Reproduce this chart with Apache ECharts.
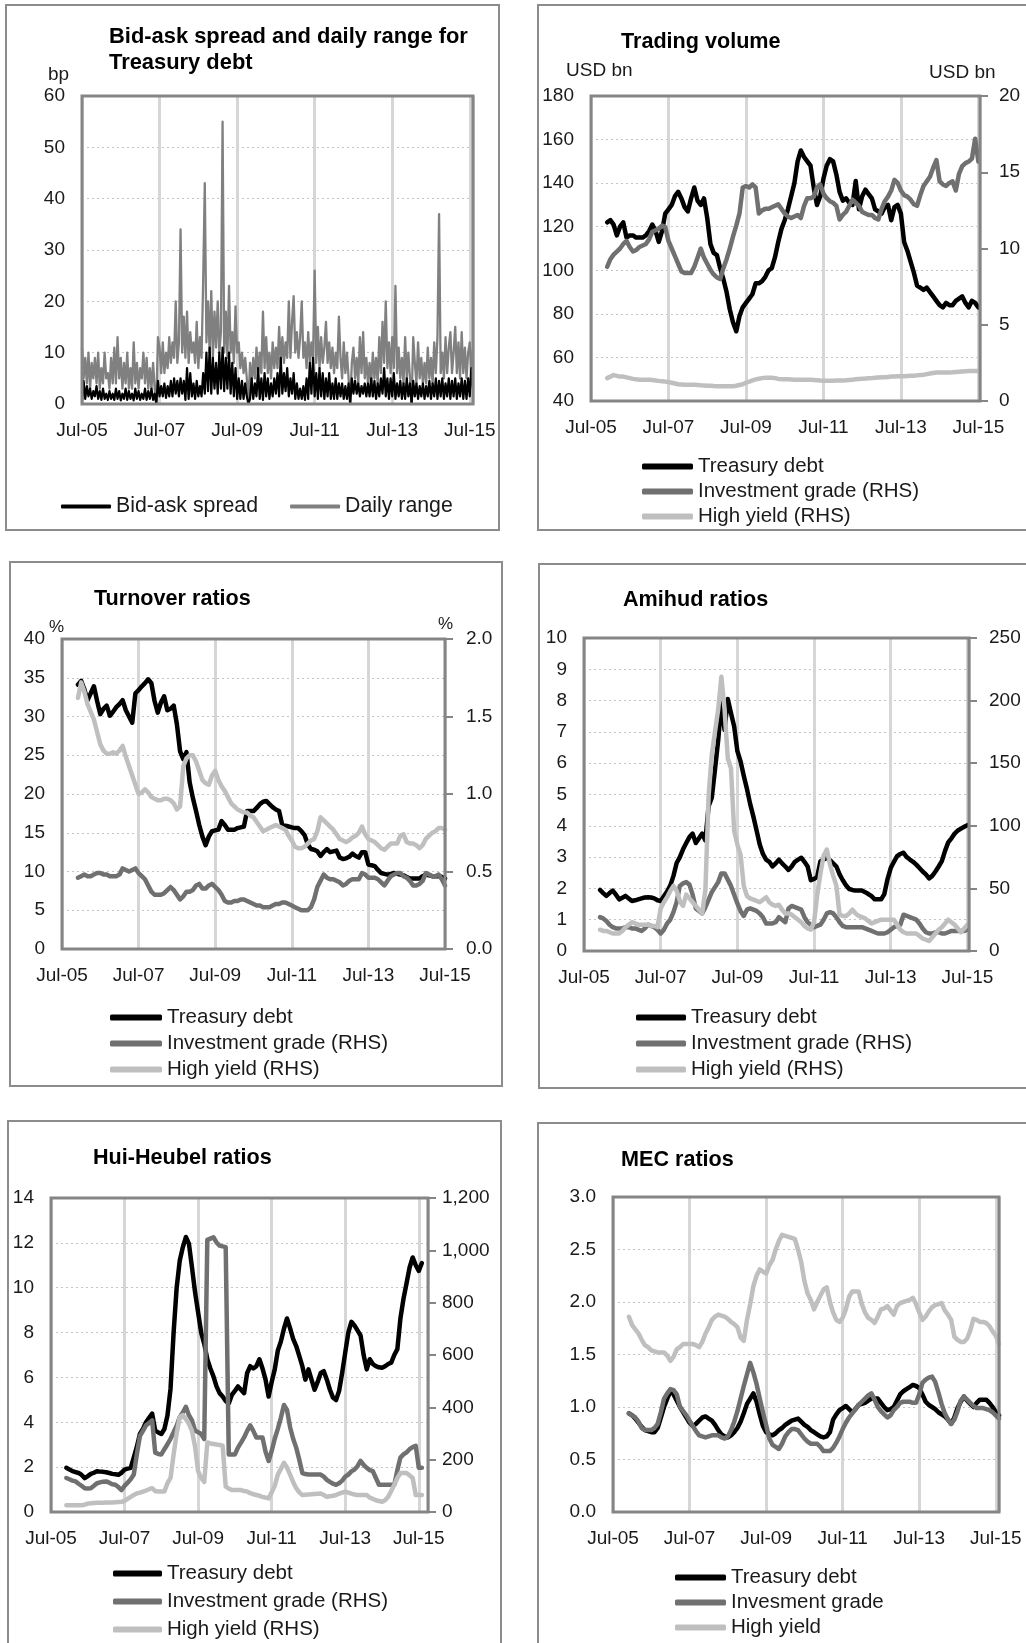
<!DOCTYPE html>
<html><head><meta charset="utf-8">
<script src="https://cdn.jsdelivr.net/npm/echarts/dist/echarts.min.js"></script>
<style>html,body{margin:0;padding:0;background:#fff}#c{width:1026px;height:1643px}</style>
</head><body><div id="c"></div>
<script>
// ---------- tick labels ----------
const xLabels = ['Jul-05','Jul-07','Jul-09','Jul-11','Jul-13','Jul-15'];

// ---------- Panel 1: bid-ask spread & daily range (half-monthly from Jul-05) ----------
const baStart = 0, baStep = 0.5;
const dailyRange = [
 11,5,9,4,10,3,8,5,9,4,   10,3,7,4,10,5,6,3,9,4,
 11,4,13,5,9,3,8,4,10,3,  7,3,12,4,8,3,7,5,10,4,
 9,3,7,3,8,3,0,13,11,6,   12,6,10,7,13,8,12,9,20,8,
 12,34,10,17,9,18,8,14,10,12, 8,16,7,13,9,24,43,12,20,10,
 22,9,18,11,20,10,14,55,10,18, 9,23,10,14,8,19,10,12,7,10,
 6,9,5,0,8,4,9,5,11,6,    10,6,18,7,13,6,10,5,12,7,
 11,7,15,8,13,8,12,9,20,9, 16,21,10,14,9,13,20,9,12,7,
 14,8,12,9,26,8,15,7,13,8, 11,16,8,12,7,11,6,10,7,17,
 9,5,12,6,10,5,0,8,11,5,  9,4,13,6,14,5,9,4,8,4,
 10,5,9,4,13,6,16,8,20,7, 12,6,13,7,23,6,11,5,9,4,
 13,5,10,5,0,13,8,4,12,5, 9,4,8,4,11,5,9,4,12,6,
 13,37,6,10,5,13,6,11,14,6, 10,15,6,12,5,14,6,11,5,10,
 12,6,11];
const bidAsk = [
 0.5,4.5,1,3.5,1.5,3,1,2.5,1.5,3.5, 1,2.5,0.8,3,1,2,0.8,2.5,1,2,
 0.8,3,1,2.5,0.7,2,1,3,0.8,2.5,     1,2,0.7,3,1,2.5,0.8,2,1,3,
 0.8,2.5,1,3,0.8,2,0,4.5,1.5,3.5,   1.5,4,1.2,3.5,1.5,4.5,1.5,5,2,4.5,
 1.5,5,2,4.5,0.8,7,1,6,1.5,4,       1,4.5,1.5,3.5,1.5,6,2,10,2.5,11,
 2,9,3,8,2,10,3,11,2.5,9,           3,10,2,8,1.5,7,1,5,1,4.5,
 1,4,1.5,0,1,5,1,4,1.5,7,           1,5,0.8,6,1.5,5,1,4,1.5,5,
 2,6,1.5,9,2,6,2.5,7,1.5,5,         2,6,1,4,1,3,1,3.5,0.8,5,
 1,8,2,9,1.5,6,1,7,1.5,6,           1,5,1.5,6,1,4,1,5,1,4,
 1.5,4,1,3.5,1,4,0,5,2,4.5,         2,4,1.5,3.5,2,4,1.5,4,1.5,5,
 1.5,4.5,1,4,1.5,5,2,7,1.5,5,       1,5,1.5,6,1,4,1.5,4.5,1,4,
 1,5,1.5,4,0,4.5,1.5,4,1,3.5,       1.5,4,1,3.5,1.5,4.5,1,4,1.5,5,
 1,4.5,1.5,5,1,4,1.5,5,1,4.5,       1.5,5,1,4,1.5,5,1,4.5,1,5,
 1.5,7,3];

// ---------- Panel 2: trading volume (monthly, from month 5 after Jul-05) ----------
const tvStart = 5;
const tvTreasury = [
 122,123,121,116,120,122,115,116,116,115,
 115,115,116,118,121,118,113,118,126,128,
 130,134,136,133,129,127,133,138,132,130,
 133,124,112,108,107,101,96,90,82,76,
 72,79,83,85,87,89,94,94,95,97,
 100,101,106,113,119,123,128,134,140,150,
 155,152,150,148,138,130,134,142,148,151,
 150,144,136,132,133,131,130,141,128,134,
 137,135,133,128,127,126,129,130,123,129,
 130,126,113,109,104,99,93,92,91,92,
 90,88,86,84,83,85,84,84,86,87,
 88,85,83,86,85,83];
const tvInvGrade = [
 8.8,9.3,9.6,9.8,10.0,10.3,10.5,10.1,9.8,9.9,
 10.1,10.2,10.3,10.6,11.1,11.2,11.3,11.5,11.4,10.5,
 10.0,9.5,9.0,8.5,8.4,8.4,8.4,8.8,9.4,10.0,
 9.4,9.0,8.6,8.3,8.1,8.0,8.7,9.3,10.0,10.8,
 11.5,12.3,14.0,14.1,14.0,14.2,14.0,12.3,12.5,12.6,
 12.6,12.7,12.8,12.9,12.6,12.3,12.1,12.0,12.1,12.2,
 12.0,12.8,13.3,13.3,13.4,14.0,14.2,13.6,13.3,13.1,
 13.0,12.8,11.9,12.2,12.4,12.8,13.2,13.0,12.8,12.4,
 12.3,12.2,12.2,12.0,11.9,12.6,13.1,13.4,13.8,14.5,
 14.3,13.8,13.5,13.4,13.2,12.9,12.8,13.5,14.1,14.4,
 14.7,15.3,15.8,14.4,14.2,14.1,14.3,14.4,13.8,14.9,
 15.4,15.6,15.7,15.9,17.2,15.7];
const tvHighYield = [
 1.5,1.6,1.7,1.65,1.6,1.6,1.55,1.5,1.45,1.42,
 1.4,1.4,1.4,1.4,1.38,1.35,1.32,1.3,1.27,1.24,
 1.2,1.15,1.1,1.08,1.06,1.06,1.06,1.06,1.05,1.03,
 1.02,1.0,1.0,0.98,0.97,0.97,0.96,0.96,0.97,0.97,
 1.0,1.05,1.1,1.2,1.27,1.35,1.42,1.46,1.5,1.52,
 1.53,1.53,1.5,1.45,1.42,1.42,1.42,1.41,1.4,1.4,
 1.4,1.4,1.4,1.4,1.38,1.36,1.34,1.33,1.33,1.33,
 1.33,1.34,1.35,1.35,1.36,1.38,1.4,1.42,1.44,1.46,
 1.47,1.49,1.5,1.52,1.54,1.55,1.56,1.58,1.6,1.61,
 1.62,1.62,1.63,1.64,1.65,1.66,1.68,1.7,1.72,1.76,
 1.8,1.84,1.87,1.87,1.87,1.87,1.87,1.88,1.9,1.92,
 1.94,1.95,1.96,1.96,1.96,1.96];

// ---------- Panel 3: turnover ratios ----------
const toStart = 5;
const toTreasury = [
 34.1,34.6,33.5,32.1,33.0,33.9,32.0,30.3,31.0,31.4,
 30.1,30.6,31.2,31.6,32.1,30.8,30.0,29.2,33.0,33.4,
 33.9,34.3,34.8,34.3,32.0,30.5,31.8,32.6,30.8,31.0,
 31.4,29.0,25.5,24.5,25.4,21.5,19.5,17.8,16.0,14.5,
 13.4,14.5,15.2,15.3,15.4,16.5,16.0,15.4,15.4,15.4,
 15.6,15.7,15.8,17.8,17.8,17.8,18.2,18.7,19.0,19.1,
 18.7,18.3,18.0,17.8,16.0,15.9,15.8,15.7,15.6,15.6,
 15.2,14.7,13.5,12.9,12.8,12.6,12.0,12.5,12.9,12.5,
 12.6,12.7,11.8,11.6,11.7,11.9,12.3,12.0,11.8,12.5,
 12.5,10.9,10.8,10.7,10.2,9.8,9.7,9.6,9.7,9.8,
 9.7,9.6,9.5,9.3,9.1,9.1,9.1,9.1,9.4,9.6,
 9.5,9.4,9.4,9.4,9.3,9.1];
const toInvGrade = [
 .46,.47,.48,.47,.47,.48,.49,.49,.48,.48,
 .47,.47,.47,.48,.52,.51,.50,.51,.52,.49,
 .47,.45,.41,.37,.35,.35,.35,.36,.38,.40,
 .38,.35,.32,.34,.37,.37,.38,.41,.42,.39,
 .39,.41,.42,.40,.38,.35,.31,.30,.30,.31,
 .31,.32,.32,.31,.30,.29,.28,.28,.27,.27,
 .27,.28,.29,.29,.30,.30,.29,.28,.27,.26,
 .25,.25,.25,.27,.32,.40,.44,.48,.46,.45,
 .45,.44,.43,.41,.42,.44,.45,.45,.45,.49,
 .48,.46,.46,.46,.45,.43,.41,.44,.47,.48,
 .49,.49,.47,.46,.44,.41,.41,.42,.44,.49,
 .48,.47,.47,.48,.45,.41];
const toHighYield = [
 1.62,1.72,1.66,1.58,1.53,1.48,1.40,1.32,1.28,1.26,
 1.26,1.27,1.26,1.28,1.31,1.24,1.18,1.12,1.06,1.00,
 1.01,1.03,1.01,.98,.97,.96,.96,.97,.97,.96,
 .94,.90,.92,1.18,1.23,1.25,1.25,1.21,1.15,1.09,
 1.07,1.06,1.12,1.15,1.09,1.05,1.02,.98,.94,.92,
 .90,.89,.88,.88,.86,.85,.82,.79,.76,.77,
 .78,.79,.80,.79,.78,.77,.73,.70,.66,.65,
 .65,.66,.68,.70,.71,.76,.85,.83,.81,.79,
 .77,.74,.71,.70,.69,.70,.72,.73,.75,.79,
 .74,.71,.70,.69,.67,.65,.64,.66,.68,.68,
 .68,.73,.74,.69,.68,.68,.67,.65,.67,.71,
 .73,.75,.76,.78,.78,.77];

// ---------- Panel 4: Amihud ratios ----------
const amStart = 5;
const amTreasury = [
 1.95,1.85,1.76,1.85,1.93,1.80,1.65,1.70,1.76,1.68,
 1.60,1.62,1.65,1.68,1.71,1.72,1.71,1.68,1.62,1.60,
 1.75,1.90,2.09,2.40,2.81,3.00,3.25,3.45,3.64,3.75,
 3.45,3.60,3.75,3.53,4.63,4.90,5.80,6.73,7.94,7.06,
 8.05,7.60,7.17,6.39,6.06,5.60,5.18,4.70,4.30,3.86,
 3.40,3.10,2.92,2.85,2.70,2.80,2.92,2.80,2.70,2.59,
 2.70,2.85,2.92,2.98,2.85,2.70,2.26,2.30,2.37,2.87,
 2.92,2.98,2.90,2.80,2.70,2.45,2.26,2.10,1.98,1.95,
 1.93,1.93,1.93,1.88,1.82,1.75,1.65,1.65,1.65,1.82,
 2.30,2.65,2.85,3.03,3.10,3.14,3.00,2.92,2.85,2.76,
 2.65,2.54,2.45,2.32,2.40,2.54,2.70,2.87,3.20,3.47,
 3.60,3.75,3.85,3.91,3.97,4.02];
const amInvGrade = [
 27,26,24,21,19,18,18,18,19,19,
 18,18,17,16,18,21,20,19,17,14,
 17,22,25,31,39,52,54,55,53,45,
 34,32,30,35,41,47,51,55,62,62,
 57,52,45,38,32,28,33,34,33,32,
 30,27,22,22,22,23,27,25,23,34,
 36,35,34,33,27,23,21,19,20,21,
 25,30,31,30,27,23,20,19,19,19,
 19,19,19,18,17,16,15,14,14,14,
 15,17,19,20,21,29,28,27,26,25,
 22,18,15,14,14,15,15,14,14,15,
 16,16,16,16,16,17];
const amHighYield = [
 17,16,16,15,14,14,14,16,19,21,
 23,22,21,21,21,21,20,20,19,34,
 39,43,48,52,48,40,36,45,42,39,
 36,33,30,49,124,157,175,193,219,193,
 154,146,96,85,77,52,44,42,41,40,
 39,41,43,39,37,36,37,33,30,30,
 29,27,25,23,20,18,17,23,45,62,
 76,81,69,60,52,29,28,28,30,33,
 30,28,27,26,24,22,23,24,25,25,
 25,25,25,21,17,15,14,14,14,14,
 12,10,9,8,11,14,17,19,22,25,
 23,21,18,15,18,21];

// ---------- Panel 5: Hui-Heubel ratios ----------
const hhStart = 5;
const hhTreasury = [
 1.97,1.90,1.82,1.78,1.74,1.65,1.51,1.60,1.70,1.75,
 1.82,1.80,1.79,1.77,1.74,1.70,1.68,1.66,1.75,1.89,
 1.93,1.97,2.42,2.90,3.48,3.70,4.00,4.20,4.39,3.63,
 3.55,3.48,3.70,4.30,5.50,8.00,10.0,11.2,11.8,12.26,
 11.96,10.9,9.8,8.9,8.0,7.5,6.81,6.40,6.05,5.60,
 5.30,5.15,4.95,4.84,5.22,5.40,5.60,5.45,5.30,6.20,
 6.50,6.40,6.50,6.81,6.40,5.90,5.15,5.80,6.36,7.20,
 7.60,8.17,8.63,8.20,7.72,7.40,6.96,6.50,5.90,6.36,
 5.90,5.45,5.80,6.20,6.28,5.90,5.45,5.10,4.99,5.40,
 6.20,7.11,8.00,8.48,8.32,8.10,7.87,7.00,6.36,6.81,
 6.60,6.50,6.45,6.43,6.50,6.60,6.66,7.00,7.26,8.63,
 9.50,10.2,10.9,11.35,11.0,10.75,11.1];
const hhInvGrade = [
 130,125,120,117,108,100,91,90,91,100,
 110,113,116,117,112,106,104,95,84,100,
 112,125,143,220,290,310,331,340,350,227,
 222,220,240,259,280,305,330,363,380,402,
 370,350,311,305,298,279,1040,1045,1050,1030,
 1018,1015,1012,220,220,220,246,265,285,310,
 331,310,285,285,285,230,195,233,280,318,
 360,409,390,324,280,246,200,149,145,143,
 143,143,143,143,135,123,115,108,104,110,
 120,135,143,155,162,175,195,180,169,160,
 156,130,104,104,104,104,104,104,160,208,
 220,228,240,248,253,169,169];
const hhHighYield = [
 26,26,26,26,26,26,28,32,33,34,
 35,35,35,36,36,36,37,38,39,42,
 50,58,65,71,74,78,82,87,91,80,
 78,78,78,110,130,220,300,363,370,355,
 337,310,250,156,130,115,266,262,260,258,
 256,253,97,90,84,84,84,84,80,78,
 72,68,65,62,58,55,52,75,100,143,
 165,188,170,143,115,91,75,65,66,67,
 68,69,70,71,65,58,60,62,65,70,
 74,78,74,70,67,65,65,65,65,55,
 50,45,42,39,45,58,80,104,130,149,
 149,149,140,130,65,65,65];

// ---------- Panel 6: MEC ratios ----------
const mecStart = 5;
const mecTreasury = [
 .94,.92,.89,.85,.81,.78,.77,.76,.76,.80,
 .90,1.00,1.08,1.15,1.12,1.06,1.00,.95,.90,.85,
 .82,.84,.87,.90,.91,.89,.87,.83,.78,.74,
 .72,.71,.73,.76,.80,.86,.94,1.03,1.08,1.13,
 1.05,.93,.82,.76,.74,.73,.75,.78,.80,.83,
 .85,.87,.88,.89,.86,.83,.81,.78,.76,.74,
 .72,.71,.72,.76,.88,.93,.97,.99,1.01,.98,
 .95,.98,1.02,1.03,1.04,1.06,1.08,1.08,1.08,1.04,
 1.00,.97,.98,1.00,1.06,1.12,1.15,1.17,1.19,1.21,
 1.20,1.18,1.12,1.05,1.02,1.00,.98,.95,.93,.91,
 .88,.84,.90,.99,1.05,1.10,1.06,1.03,1.00,1.04,
 1.07,1.07,1.07,1.04,1.00,.95,.92];
const mecInvGrade = [
 .94,.92,.90,.86,.80,.78,.78,.78,.80,.84,
 .95,1.08,1.13,1.17,1.16,1.12,1.00,.96,.92,.87,
 .82,.77,.73,.72,.71,.72,.73,.73,.73,.71,
 .70,.72,.78,.86,.96,1.08,1.20,1.31,1.42,1.33,
 1.22,1.08,.95,.83,.70,.64,.62,.60,.65,.72,
 .76,.79,.79,.78,.74,.70,.67,.65,.65,.65,
 .62,.58,.58,.58,.61,.66,.72,.79,.85,.90,
 .94,.98,1.02,1.05,1.08,1.11,1.13,1.07,1.00,.96,
 .93,.90,.92,.97,1.00,1.04,1.05,1.05,1.05,1.04,
 1.04,1.12,1.23,1.26,1.28,1.29,1.24,1.14,1.03,.94,
 .88,.84,.88,.96,1.06,1.10,1.07,1.04,1.01,.99,
 .99,.99,.98,.97,.95,.92,.89];
const mecHighYield = [
 1.86,1.78,1.74,1.70,1.64,1.59,1.57,1.54,1.53,1.52,
 1.52,1.52,1.49,1.44,1.48,1.55,1.57,1.60,1.60,1.60,
 1.60,1.59,1.57,1.62,1.70,1.76,1.83,1.86,1.88,1.87,
 1.86,1.84,1.81,1.79,1.76,1.66,1.63,1.83,1.98,2.15,
 2.25,2.31,2.29,2.27,2.35,2.40,2.50,2.58,2.64,2.63,
 2.62,2.61,2.60,2.50,2.38,2.20,2.08,2.02,1.93,2.00,
 2.06,2.12,2.14,2.00,1.90,1.83,1.81,1.85,1.93,2.05,
 2.10,2.10,2.10,1.98,1.90,1.85,1.83,1.80,1.86,1.93,
 1.94,1.96,1.92,1.88,1.96,1.99,2.00,2.01,2.02,2.04,
 1.98,1.90,1.83,1.86,1.91,1.95,1.97,1.98,1.99,1.92,
 1.88,1.83,1.67,1.64,1.62,1.62,1.65,1.73,1.84,1.83,
 1.81,1.81,1.80,1.77,1.72,1.68,1.60];

// ---------- build ----------
const FONT = "'Liberation Sans', Arial, Helvetica, sans-serif";
const TXT = '#1a1a1a';
const C_BLACK = '#000000', C_IG = '#707070', C_HY = '#bfbfbf', C_DR = '#808080';
const FRAME = '#858585';

function pts(start, step, arr) { return arr.map((v, i) => [start + i * step, v]); }

const gridRects = [
  {left: 82, top: 96, width: 391, height: 308},
  {left: 591, top: 96, width: 389, height: 305},
  {left: 62, top: 639, width: 383, height: 310},
  {left: 584, top: 638, width: 385, height: 313},
  {left: 51, top: 1198, width: 377, height: 314},
  {left: 613, top: 1197, width: 386, height: 315}
];
const grids = gridRects.map(g => Object.assign({show: false, containLabel: false}, g));

const xMax = [121, 120.5, 120, 120.5, 123, 121];
const xAxes = xMax.map((mx, i) => ({
  gridIndex: i, type: 'value', min: 0, max: mx, interval: 24,
  axisLine: {show: false}, axisTick: {show: false},
  splitLine: {show: true, lineStyle: {color: '#d6d6d6', width: 3}},
  axisLabel: {fontSize: 19, color: TXT, fontFamily: FONT, margin: 17,
    formatter: v => (Math.abs(v % 24) < 1e-6 ? xLabels[Math.round(v / 24)] : '')}
}));

function yLeft(g, min, max, interval, fmt) {
  return {gridIndex: g, type: 'value', position: 'left', min, max, interval,
    axisLine: {show: false}, axisTick: {show: false},
    splitLine: {show: true, lineStyle: {color: '#c4c4c4', width: 1, type: [2, 3]}},
    axisLabel: {fontSize: 19, color: TXT, fontFamily: FONT, margin: 17, formatter: fmt}};
}
function yRight(g, min, max, interval, fmt, margin) {
  return {gridIndex: g, type: 'value', position: 'right', min, max, interval,
    axisLine: {show: false},
    axisTick: {show: true, length: 8, lineStyle: {color: FRAME, width: 2}},
    splitLine: {show: false},
    axisLabel: {fontSize: 19, color: TXT, fontFamily: FONT, margin: margin, formatter: fmt}};
}
const f1 = v => v.toFixed(1);
const fInt = v => String(Math.round(v));
const fComma = v => Math.round(v).toLocaleString('en-US');

const yAxes = [
  yLeft(0, 0, 60, 10, fInt),
  yLeft(1, 40, 180, 20, fInt), yRight(1, 0, 20, 5, fInt, 19),
  yLeft(2, 0, 40, 5, fInt), yRight(2, 0, 2, 0.5, f1, 21),
  yLeft(3, 0, 10, 1, fInt), yRight(3, 0, 250, 50, fInt, 20),
  yLeft(4, 0, 14, 2, fInt), yRight(4, 0, 1200, 200, fComma, 14),
  yLeft(5, 0, 3, 0.5, f1)
];

function line(name, xi, yi, data, color, width) {
  return {type: 'line', name, xAxisIndex: xi, yAxisIndex: yi, data,
    showSymbol: false, symbol: 'none', clip: true, animation: false,
    itemStyle: {color}, color,
    lineStyle: {color, width, cap: 'round', join: 'round'}};
}
const N_T = 'Treasury debt', N_IG = 'Investment grade (RHS)', N_HY = 'High yield (RHS)';
const W = 4.5;
const series = [
  line('Daily range', 0, 0, pts(baStart, baStep, dailyRange), C_DR, 2.3),
  line('Bid-ask spread', 0, 0, pts(baStart, baStep, bidAsk), C_BLACK, 2.2),

  line(N_T, 1, 1, pts(tvStart, 1, tvTreasury), C_BLACK, W),
  line(N_IG, 1, 2, pts(tvStart, 1, tvInvGrade), C_IG, W),
  line(N_HY, 1, 2, pts(tvStart, 1, tvHighYield), C_HY, W),

  line(N_T, 2, 3, pts(toStart, 1, toTreasury), C_BLACK, W),
  line(N_IG, 2, 4, pts(toStart, 1, toInvGrade), C_IG, W),
  line(N_HY, 2, 4, pts(toStart, 1, toHighYield), C_HY, W),

  line(N_T, 3, 5, pts(amStart, 1, amTreasury), C_BLACK, W),
  line(N_IG, 3, 6, pts(amStart, 1, amInvGrade), C_IG, W),
  line(N_HY, 3, 6, pts(amStart, 1, amHighYield), C_HY, W),

  line(N_T, 4, 7, pts(hhStart, 1, hhTreasury), C_BLACK, W),
  line(N_IG, 4, 8, pts(hhStart, 1, hhInvGrade), C_IG, W),
  line(N_HY, 4, 8, pts(hhStart, 1, hhHighYield), C_HY, W),

  line(N_T, 5, 9, pts(mecStart, 1, mecTreasury), C_BLACK, W),
  line('Invesment grade', 5, 9, pts(mecStart, 1, mecInvGrade), C_IG, W),
  line('High yield', 5, 9, pts(mecStart, 1, mecHighYield), C_HY, W)
];

function legend(left, top, orient, data, itemWidth, itemGap, itemHeight, fs) {
  return {left, top, orient, data, itemWidth, itemGap, itemHeight: itemHeight || 6,
    icon: 'roundRect', selectedMode: false, padding: 0,
    textStyle: {fontSize: fs || 20.5, color: TXT, fontFamily: FONT, lineHeight: 20}};
}
const legends = [
  legend(61, 496, 'horizontal', ['Bid-ask spread', 'Daily range'], 50, 32, 4, 21.3),
  legend(642, 456, 'vertical', [N_T, N_IG, N_HY], 51, 4),
  legend(110, 1007, 'vertical', [N_T, N_IG, N_HY], 52, 5),
  legend(636, 1007, 'vertical', [N_T, N_IG, N_HY], 50, 5),
  legend(113, 1563, 'vertical', [N_T, N_IG, N_HY], 49, 7),
  legend(675, 1567, 'vertical', [N_T, 'Invesment grade', 'High yield'], 51, 4)
];

function title(text, left, top, fs) {
  return {text, left, top, padding: 0,
    textStyle: {fontSize: fs || 21.6, fontWeight: 'bold', color: '#000', fontFamily: FONT, lineHeight: 26}};
}
const titles = [
  title('Bid-ask spread and daily range for\nTreasury debt', 109, 24, 21.9),
  title('Trading volume', 621, 29),
  title('Turnover ratios', 94, 586),
  title('Amihud ratios', 623, 587),
  title('Hui-Heubel ratios', 93, 1145),
  title('MEC ratios', 621, 1147)
];

function box(x, y, w, h) {
  return {type: 'rect', silent: true, z: -10,
    shape: {x, y, width: w, height: h},
    style: {fill: 'rgba(0,0,0,0)', stroke: '#8c8c8c', lineWidth: 2}};
}
function frame(g) {
  return {type: 'rect', silent: true, z: 100,
    shape: {x: g.left, y: g.top, width: g.width, height: g.height},
    style: {fill: 'rgba(0,0,0,0)', stroke: FRAME, lineWidth: 3}};
}
function label(text, x, y, size) {
  return {type: 'text', silent: true, x, y,
    style: {text, fill: TXT, font: (size || 19) + 'px ' + FONT, textAlign: 'left', textVerticalAlign: 'middle'}};
}
const graphics = [
  box(6, 5, 493, 525), box(538, 5, 500, 525),
  box(10, 562, 492, 524), box(539, 564, 500, 524),
  box(8, 1121, 493, 540), box(538, 1123, 500, 540),
  label('bp', 48, 75),
  label('USD bn', 566, 71), label('USD bn', 929, 73),
  label('%', 49, 627, 17), label('%', 438, 624, 17)
].concat(gridRects.map(frame));

const chart = echarts.init(document.getElementById('c'), null, {renderer: 'canvas', width: 1026, height: 1643});
chart.setOption({
  animation: false,
  backgroundColor: '#ffffff',
  textStyle: {fontFamily: FONT},
  title: titles,
  legend: legends,
  grid: grids,
  xAxis: xAxes,
  yAxis: yAxes,
  series: series,
  graphic: graphics
});
</script>
</body></html>
